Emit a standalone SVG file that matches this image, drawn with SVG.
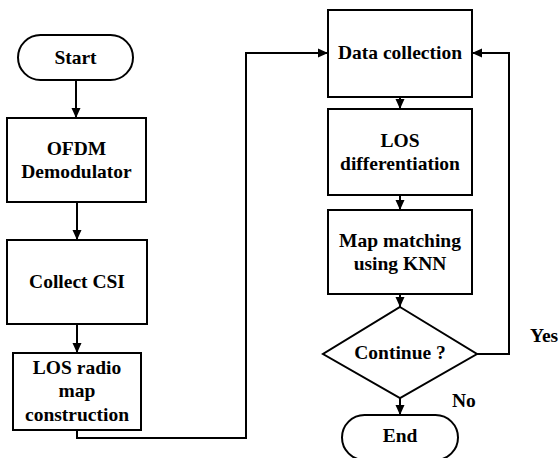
<svg xmlns="http://www.w3.org/2000/svg" width="560" height="458" viewBox="0 0 560 458">
  <style>
    .box { fill: #ffffff; stroke: #000000; stroke-width: 2; }
    .lbl { font-family: "Liberation Serif", "Times New Roman", serif; font-weight: bold; font-size: 19.5px; fill: #000000; text-anchor: middle; }
    .side { font-family: "Liberation Serif", "Times New Roman", serif; font-weight: bold; font-size: 19.5px; fill: #000000; }
    .wire { fill: none; stroke: #000000; stroke-width: 2; marker-end: url(#head); }
  </style>
  <defs>
    <marker id="head" markerUnits="userSpaceOnUse" markerWidth="10" markerHeight="10" refX="10" refY="5" orient="auto">
      <path d="M0,0.5 L10,5 L0,9.5 Z" fill="#000000"/>
    </marker>
  </defs>
  <rect width="560" height="458" fill="#ffffff"/>

  <g id="connectors">
    <line class="wire" x1="76" y1="80" x2="76" y2="118"/>
    <line class="wire" x1="77" y1="202" x2="77" y2="240"/>
    <line class="wire" x1="77" y1="324" x2="77" y2="353"/>
    <polyline class="wire" points="77,430 77,438 246,438 246,53 328,53"/>
    <line class="wire" x1="400" y1="97" x2="400" y2="109"/>
    <line class="wire" x1="400" y1="195" x2="400" y2="210"/>
    <line class="wire" x1="400" y1="294" x2="400" y2="307"/>
    <line class="wire" x1="400" y1="398" x2="400" y2="415"/>
    <polyline class="wire" points="477,354 509,354 509,53 472,53"/>
  </g>

  <g id="start">
    <rect class="box" x="18" y="35" width="115" height="45" rx="22.5" ry="22.5"/>
    <text class="lbl" x="75.5" y="64">Start</text>
  </g>
  <g id="ofdm">
    <rect class="box" x="7" y="118" width="139" height="84"/>
    <text class="lbl" x="76.5" y="155">OFDM</text>
    <text class="lbl" x="76.5" y="178">Demodulator</text>
  </g>
  <g id="collect-csi">
    <rect class="box" x="7" y="240" width="140" height="84"/>
    <text class="lbl" x="77" y="288">Collect CSI</text>
  </g>
  <g id="radio-map">
    <rect class="box" x="13" y="353" width="128" height="77"/>
    <text class="lbl" x="77" y="374">LOS radio</text>
    <text class="lbl" x="77" y="397">map</text>
    <text class="lbl" x="77" y="421">construction</text>
  </g>
  <g id="data-collection">
    <rect class="box" x="328" y="10" width="144" height="87"/>
    <text class="lbl" x="400" y="59">Data collection</text>
  </g>
  <g id="los-diff">
    <rect class="box" x="328" y="109" width="144" height="86"/>
    <text class="lbl" x="400" y="147">LOS</text>
    <text class="lbl" x="400" y="170">differentiation</text>
  </g>
  <g id="map-matching">
    <rect class="box" x="328" y="210" width="144" height="84"/>
    <text class="lbl" x="400" y="247">Map matching</text>
    <text class="lbl" x="400" y="270">using KNN</text>
  </g>
  <g id="continue">
    <polygon class="box" points="400,307 477,354 400,398 323,354"/>
    <text class="lbl" x="400" y="359">Continue ?</text>
  </g>
  <g id="end">
    <rect class="box" x="342" y="415" width="116" height="45" rx="22.5" ry="22.5"/>
    <text class="lbl" x="400" y="442">End</text>
  </g>
  <text class="side" x="530" y="342">Yes</text>
  <text class="side" x="452" y="407">No</text>
</svg>
